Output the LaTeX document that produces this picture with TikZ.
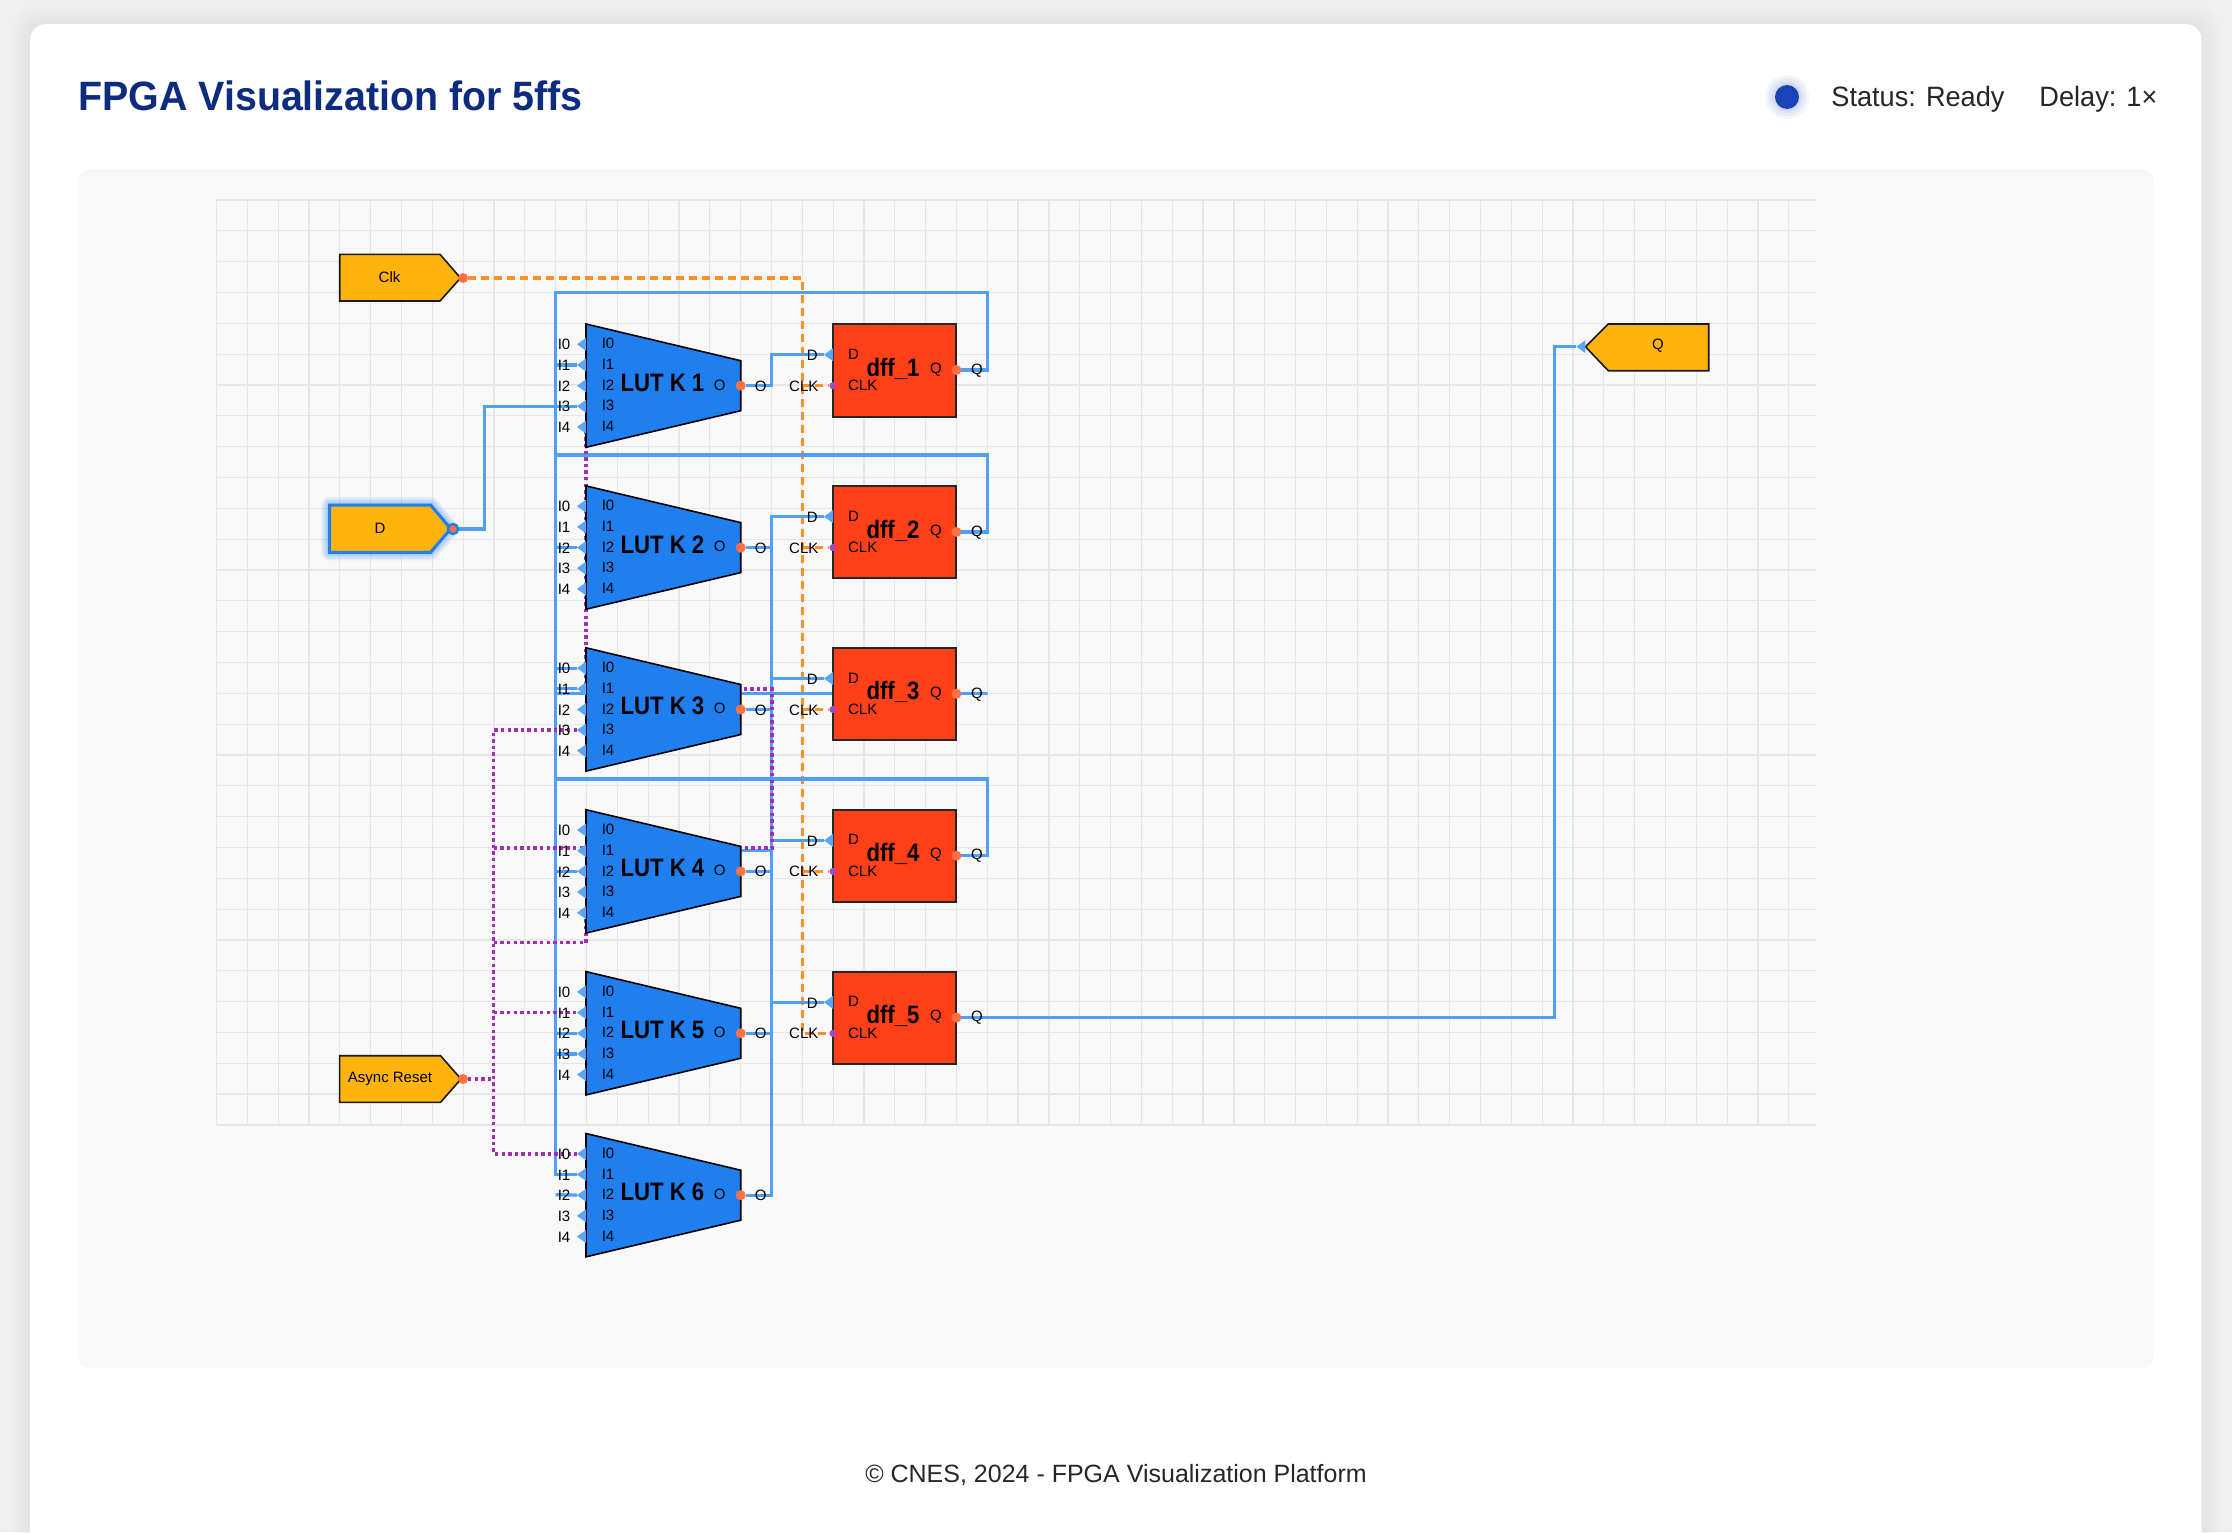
\documentclass[tikz,border=0pt]{standalone}
\usepackage{fontspec}
\setmainfont{Liberation Sans}
\newfontfamily\narrowbold[FakeStretch=0.88]{Liberation Sans Bold}
\newfontfamily\titlebold[FakeStretch=0.96]{Liberation Sans Bold}
\newfontfamily\headertext[FakeStretch=0.97]{Liberation Sans}
\usetikzlibrary{shapes.geometric}
\definecolor{pagegray}{HTML}{EFEFEF}
\definecolor{panelgray}{HTML}{F8F8F8}
\definecolor{gridgray}{HTML}{E6E6E6}
\definecolor{titleblue}{HTML}{0D2C80}
\definecolor{statusblue}{HTML}{1A43B8}
\definecolor{lutblue}{HTML}{1F7FEF}
\definecolor{dffred}{HTML}{FF4019}
\definecolor{blockamber}{HTML}{FFB30F}
\definecolor{wireblue}{HTML}{4F9FF5}
\definecolor{pinblue}{HTML}{5AA5F5}
\definecolor{pinorange}{HTML}{FF7043}
\definecolor{pinpurple}{HTML}{AB47BC}
\definecolor{clkorange}{HTML}{FF8F2A}
\definecolor{rstpurple}{HTML}{A32EB6}
\pgfdeclarelayer{back}
\pgfdeclarelayer{wires}
\pgfsetlayers{back,wires,main}
\tikzset{
  wire/.style = {color=wireblue, line width=1.6pt, line join=miter},
  clkwire/.style = {color=clkorange, line width=1.6pt, dash pattern=on 4pt off 2.5pt},
  rstwire/.style = {color=rstpurple, line width=1.7pt, dash pattern=on 1.7pt off 1.6pt},
  lutbody/.style = {fill=lutblue, draw=black, line width=0.8pt, line join=miter},
  dffbody/.style = {fill=dffred, draw=black!85, line width=1pt, inner sep=0pt, outer sep=0pt,
                    minimum width=61.7pt, minimum height=46.25pt},
  blockbody/.style = {fill=blockamber, draw=black!90, line width=0.8pt, line join=miter},
  pindot/.style = {circle, fill=pinorange, minimum size=#1, inner sep=0pt, outer sep=0pt},
  pindot/.default = 5pt,
  pintri/.style = {isosceles triangle, isosceles triangle stretches, shape border rotate=180,
                   fill=pinblue, minimum width=6.5pt, minimum height=4.5pt,
                   inner sep=0pt, outer sep=0pt, anchor=lower side},
  pinlabel/.style = {font=\fontsize{7.5}{9}\selectfont, inner sep=0pt, yshift=-0.2pt},
  bigtitle/.style = {font=\fontsize{12.6}{14}\narrowbold, inner sep=0pt}
}

\begin{document}
\begin{tikzpicture}[x=0.5pt, y=-0.5pt]
	\def \dy{161.9}
	\def \cell{30.83}

	\useasboundingbox (0,0) rectangle (2232,1532);
	\begin{pgfonlayer}{back}
	% Page and card
	\fill[pagegray] (0,0) rectangle (2232,1532);
	\foreach \g in {2,5,8,11,14,17} {
		\fill[black, opacity=0.008, rounded corners=10pt] (30-\g,24-\g) rectangle (2201.7+\g,1580);
	}
	\fill[white, rounded corners=8pt] (30,24) rectangle (2201.7,1580);
	\fill[panelgray, rounded corners=6pt] (78,169) rectangle (2153.6,1368);

	% Grid
	\foreach \c in {0,...,51} {
		\draw[gridgray, line width=0.6pt] (216.5+\c*\cell,200) -- (216.5+\c*\cell,1125);
	}
	\foreach \c in {0,...,30} {
		\draw[gridgray, line width=0.6pt] (216.5,200+\c*\cell) -- (1816,200+\c*\cell);
	}
	\end{pgfonlayer}

	% Header and footer
	\node[anchor=base west, inner sep=0pt, text=titleblue, font=\fontsize{20.5}{24}\titlebold] (title) at (78,110.7) {FPGA Visualization for 5ffs};
	\foreach \g in {10,7,4,2} {
		\fill[statusblue, opacity=0.05] (1787,97) circle (6pt+\g*0.5pt);
	}
	\node[circle, fill=statusblue, minimum size=12pt, inner sep=0pt] (statusdot) at (1787,97) {};
	\node[anchor=west, inner sep=0pt, text=black!85, font=\fontsize{14}{16}\headertext] (status) at (1831,99) {Status: Ready};
	\node[anchor=west, inner sep=0pt, text=black!85, font=\fontsize{14}{16}\headertext] (delay) at (2039,99) {Delay: 1×};
	\node[inner sep=0pt, text=black!85, font=\fontsize{12.5}{16}\selectfont] (footer) at (1116,1475) {© CNES, 2024 - FPGA Visualization Platform};

	% Input and output blocks
	\draw[blockbody] (339.7,254.3) -- (440,254.3) -- (460.5,278) -- (440,301) -- (339.7,301) -- cycle;
	\node[pinlabel] (clkblock) at (389.5,277) {Clk};
	\node[pindot] (clkblock-o) at (463,278) {};

	\foreach \g in {8,6.5,5,3.5,2.5} {
		\draw[wireblue, opacity=0.12, line width=\g*1pt, line join=round] (329.7,505) -- (430.6,505) -- (450.7,528.7) -- (430.6,552.3) -- (329.7,552.3) -- cycle;
	}
	\draw[blockbody, draw=lutblue, line width=1.5pt] (329.7,505) -- (430.6,505) -- (450.7,528.7) -- (430.6,552.3) -- (329.7,552.3) -- cycle;
	\node[pinlabel] (dblock) at (380,528) {D};
	\node[pindot=5pt, draw=lutblue, line width=1.2pt] (dblock-o) at (453,529) {};

	\draw[blockbody] (339.6,1055.7) -- (440.5,1055.7) -- (461,1079) -- (440.5,1102.3) -- (339.6,1102.3) -- cycle;
	\node[pinlabel] (rstblock) at (390,1078) {Async Reset};
	\node[pindot] (rstblock-o) at (463,1079) {};

	\draw[blockbody] (1585.4,346.7) -- (1608.3,324) -- (1708.7,324) -- (1708.7,370.7) -- (1608.3,370.7) -- cycle;
	\node[pinlabel] (qblock) at (1658,345.5) {Q};
	\node[pintri] (qblock-d) at (1585.4,346.7) {};

	% LUTs
	\foreach \k in {1,...,6} {
		\pgfmathsetmacro \ky{(\k-1)*\dy}
		\begin{scope}[shift={(0,\ky)}]
			\draw[lutbody] (586,324) -- (740.7,360.7) -- (740.7,410.7) -- (586,447.3) -- cycle;
			\node[bigtitle] (lut\k) at (662.4,382.5) {LUT K \k};
			\foreach \i/\iy in {0/344.3, 1/365, 2/385.7, 3/406.3, 4/427} {
				\node[pintri] (lut\k-i\i) at (586,\iy) {};
				\node[pinlabel] (lut\k-outer\i) at (564,\iy) {I\i};
				\node[pinlabel] (lut\k-inner\i) at (608,\iy-1) {I\i};
			}
			\node[pinlabel] (lut\k-innero) at (719.6,384.5) {O};
			\node[pinlabel] (lut\k-outero) at (760.8,385.7) {O};
			\node[pindot] (lut\k-o) at (740.7,385.7) {};
		\end{scope}
	}

	% FFs
	\foreach \k in {1,...,5} {
		\pgfmathsetmacro \ky{(\k-1)*\dy}
		\begin{scope}[shift={(0,\ky)}]
			\node[dffbody, anchor=north west] (dff\k-box) at (833,324) {};
			\node[bigtitle] (dff\k) at (893,368.5) {dff\_\k};
			\node[pinlabel] (dff\k-innerd) at (853.6,353.7) {D};
			\node[pinlabel] (dff\k-outerd) at (812.4,355) {D};
			\node[pinlabel] (dff\k-innerclk) at (862.7,385) {CLK};
			\node[pinlabel] (dff\k-outerclk) at (803.8,385.7) {CLK};
			\node[pinlabel] (dff\k-innerq) at (936,369) {Q};
			\node[pinlabel] (dff\k-outerq) at (977,370) {Q};
			\node[pintri] (dff\k-d) at (833,354.7) {};
			\node[pindot=3.6pt, fill=pinpurple] (dff\k-clk) at (833,385.7) {};
			\node[pindot] (dff\k-q) at (956.4,370) {};
		\end{scope}
	}

	% Bends
	\coordinate (busin) at (555.5,292.7);
	\coordinate (busout) at (771.4,0);
	\coordinate (busrst) at (493.7,0);
	\coordinate (busclk) at (802.4,278);
	\coordinate (fb1) at (987.6,292.7);
	\coordinate (fb2) at (987.6,455);
	\coordinate (fb3) at (987.6,693.8);
	\coordinate (fb4) at (987.6,779);
	\coordinate (dbend) at (484.2,0);
	\coordinate (qbend) at (1554.5,0);
	\coordinate (rstbranch) at (493.7,848);
	\coordinate (rstturn) at (771.8,848);
	\coordinate (rstleft) at (586,689);
	\coordinate (rstback) at (493.7,942.7);
	\coordinate (rstedge) at (586,942.7);
	\coordinate (lut6-free) at (555.5,1194.7);

	\begin{pgfonlayer}{wires}
	% Clock
	\draw[clkwire] (clkblock-o) -- (busclk) -- (busclk |- dff5-clk) -- (dff5-clk);
	\foreach \k in {1,...,4} {
		\draw[clkwire] (busclk |- dff\k-clk) -- (dff\k-clk);
	}

	% Data in and out
	\draw[wire] (dblock-o) -| (dbend |- lut1-i3) -- (lut1-i3);
	\draw[wire] (dff5-q) -| (qbend |- qblock-d) -- (qblock-d);

	% LUT outputs
	\foreach \k in {1,...,5} {
		\draw[wire] (lut\k-o) -| (busout |- dff\k-d) -- (dff\k-d);
	}
	\draw[wire] (lut6-o) -| (busout |- dff2-d);

	% Feedback
	\draw[wire] (dff1-q) -| (fb1) -- (busin) -- (busin |- lut6-i1) -- (lut6-i1);
	\draw[wire] (dff2-q) -| (fb2) -- (busin |- fb2);
	\draw[wire] (dff3-q) -- (fb3) -- (busin |- fb3);
	\draw[wire] (dff4-q) -| (fb4) -- (busin |- fb4);
	\draw[wire] (busin |- lut1-i1) -- (lut1-i1);
	\draw[wire] (busin |- lut2-i2) -- (lut2-i2);
	\draw[wire] (busin |- lut3-i0) -- (lut3-i0);
	\draw[wire] (busin |- lut3-i1) -- (lut3-i1);
	\draw[wire] (busout |- lut4-i1) -- (lut4-i1);
	\draw[wire] (busin |- lut4-i2) -- (lut4-i2);
	\draw[wire] (busin |- lut5-i2) -- (lut5-i2);
	\draw[wire] (busin |- lut5-i3) -- (lut5-i3);
	\draw[wire] (lut6-free) -- (lut6-i2);

	% Async reset
	\draw[rstwire] (rstblock-o) -- (busrst |- rstblock-o);
	\draw[rstwire] (lut3-i3) -- (busrst |- lut3-i3) -- (busrst |- lut6-i0) -- (lut6-i0);
	\draw[rstwire] (rstbranch) -- (rstturn) -- (rstturn |- rstleft) -- (rstleft) -- (rstleft |- lut1-i4);
	\draw[rstwire] (rstback) -- (rstedge) -- (rstedge |- lut4-i4);
	\draw[rstwire] (busrst |- lut5-i1) -- (lut5-i1);
	\end{pgfonlayer}
\end{tikzpicture}
\end{document}
